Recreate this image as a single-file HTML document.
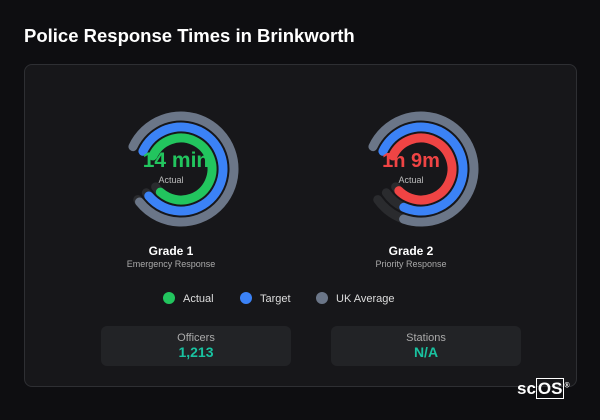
<!DOCTYPE html><html><head><style>
body{margin:0;width:600px;height:420px;background:#0e0e11;font-family:"Liberation Sans","DejaVu Sans",sans-serif;position:relative;overflow:hidden;color:#fff}
.t{position:absolute;left:24px;top:25px;font-size:18.5px;font-weight:bold;color:#fff}
.card{position:absolute;left:24px;top:64px;width:551px;height:321px;border:1px solid #2e2f33;border-radius:8px;background:#17171a}
.a{position:absolute;text-align:center}
.box{position:absolute;top:326px;width:190px;height:40px;border-radius:6px;background:#222326;text-align:center}
.box .l{font-size:11px;color:#aaa;margin-top:6px}
.box .v{font-size:14px;font-weight:bold;color:#19c2a0}
.lg{position:absolute;top:292px;font-size:11px;color:#ddd}
.dot{display:inline-block;width:12px;height:12px;border-radius:50%;vertical-align:-2px;margin-right:8px}
</style></head><body>
<div class="t">Police Response Times in Brinkworth</div>
<div class="card"></div>
<svg width="600" height="420" style="position:absolute;left:0;top:0">
<g fill="none" stroke-width="9" stroke-linecap="round">
<g transform="translate(181,169) rotate(205)">
<circle r="53" stroke="#2a2b2e" stroke-dasharray="277 400"/>
<circle r="42" stroke="#2a2b2e" stroke-dasharray="220 400"/>
<circle r="31" stroke="#2a2b2e" stroke-dasharray="162 400"/>
<circle r="53" stroke="#6b7688" stroke-dasharray="274 400"/>
<circle r="42" stroke="#3b82f6" stroke-dasharray="216 400"/>
<circle r="31" stroke="#22c55e" stroke-dasharray="155 400"/>
</g>
<g transform="translate(421,169) rotate(205)">
<circle r="53" stroke="#2a2b2e" stroke-dasharray="277 400"/>
<circle r="42" stroke="#2a2b2e" stroke-dasharray="220 400"/>
<circle r="31" stroke="#2a2b2e" stroke-dasharray="162 400"/>
<circle r="53" stroke="#6b7688" stroke-dasharray="244 400"/>
<circle r="42" stroke="#3b82f6" stroke-dasharray="197 400"/>
<circle r="31" stroke="#ef4444" stroke-dasharray="157 400"/>
</g></g>
<text x="176" y="167" text-anchor="middle" font-size="21" font-weight="bold" fill="#22c55e" font-family="Liberation Sans,sans-serif">14 min</text>
<text x="171" y="183" text-anchor="middle" font-size="9" fill="#bbb" font-family="Liberation Sans,sans-serif">Actual</text>
<text x="411" y="167" text-anchor="middle" font-size="20" font-weight="bold" fill="#ef4444" font-family="Liberation Sans,sans-serif">1h 9m</text>
<text x="411" y="183" text-anchor="middle" font-size="9" fill="#bbb" font-family="Liberation Sans,sans-serif">Actual</text>
</svg>
<div class="a" style="left:101px;top:244px;width:140px"><div style="font-size:12px;font-weight:bold">Grade 1</div><div style="font-size:9px;color:#aaa;margin-top:1px">Emergency Response</div></div>
<div class="a" style="left:341px;top:244px;width:140px"><div style="font-size:12px;font-weight:bold">Grade 2</div><div style="font-size:9px;color:#aaa;margin-top:1px">Priority Response</div></div>
<div class="lg" style="left:163px"><span class="dot" style="background:#22c55e"></span>Actual</div>
<div class="lg" style="left:240px"><span class="dot" style="background:#3b82f6"></span>Target</div>
<div class="lg" style="left:316px"><span class="dot" style="background:#6b7688"></span>UK Average</div>
<div class="box" style="left:101px"><div class="l">Officers</div><div class="v">1,213</div></div>
<div class="box" style="left:331px"><div class="l">Stations</div><div class="v">N/A</div></div>
<div style="position:absolute;left:517px;top:379px;font-size:17px;font-weight:bold;color:#fff">sc<span style="border:1.5px solid #fff;padding:0 1px">OS</span><sup style="font-size:7px">®</sup></div>
</body></html>
